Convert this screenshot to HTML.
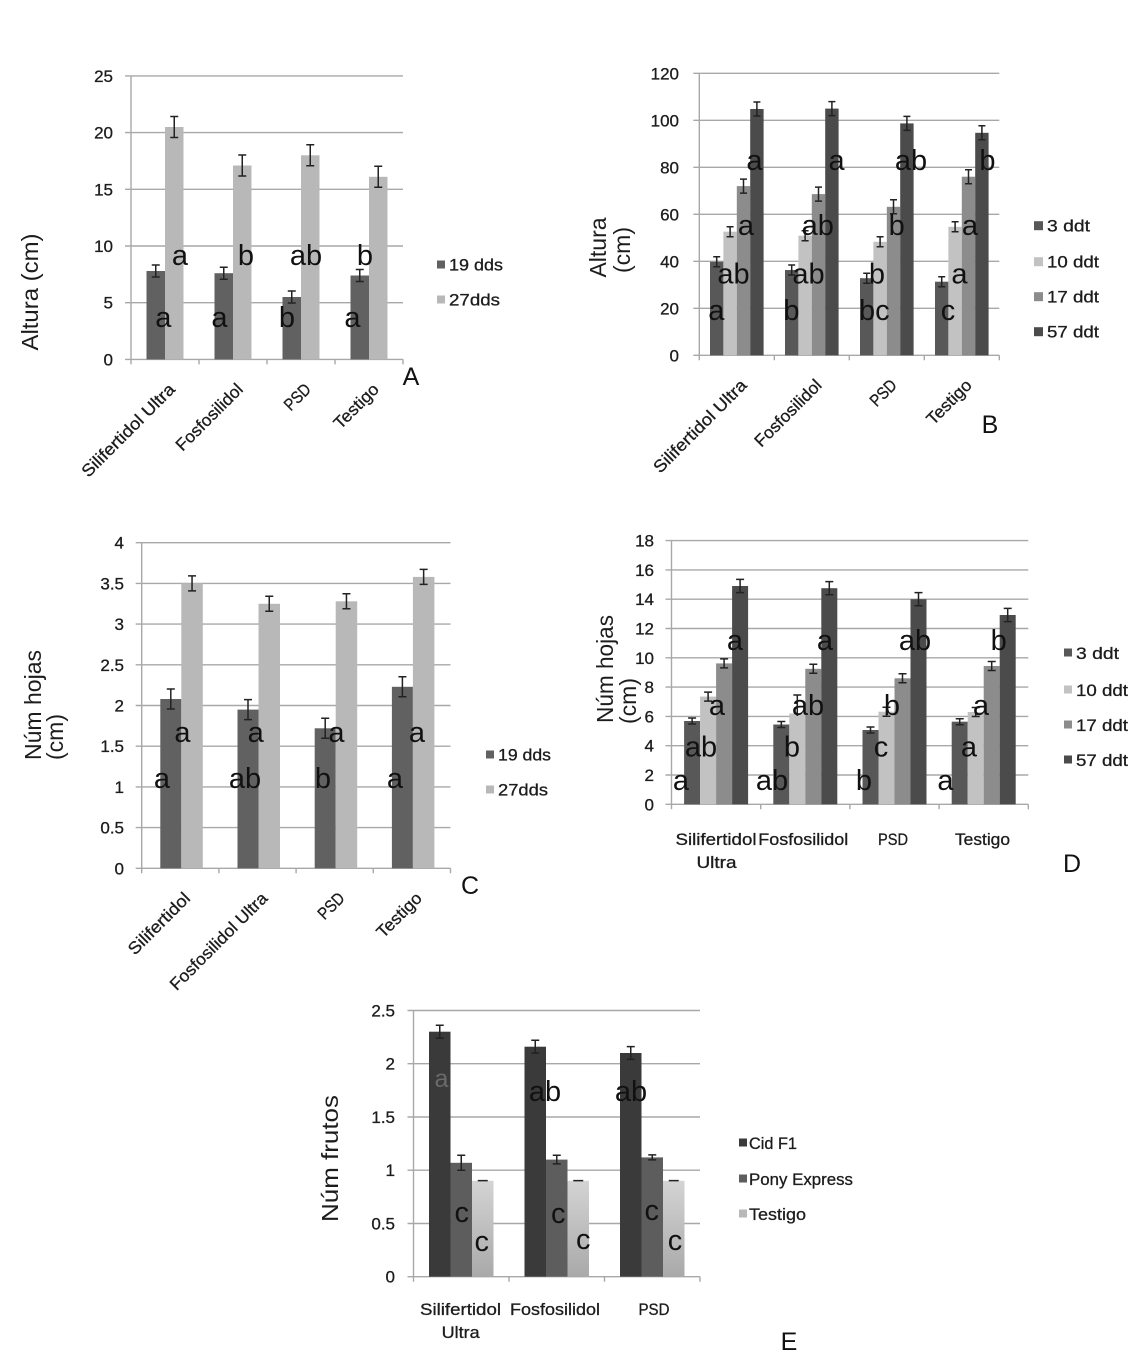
<!DOCTYPE html>
<html><head><meta charset="utf-8"><style>
html,body{margin:0;padding:0;background:#fff}
svg{display:block}
text{font-family:"Liberation Sans",Arial,sans-serif;fill:#1c1c1c}
.t{font-size:17px;text-anchor:end;stroke:#1c1c1c;stroke-width:0.3}
.l{font-size:29px;text-anchor:middle;fill:#111}
.lg{font-size:17px;stroke:#1c1c1c;stroke-width:0.3}
.x{font-size:17px;text-anchor:end;stroke:#1c1c1c;stroke-width:0.3}
.xh{font-size:17px;text-anchor:middle;stroke:#1c1c1c;stroke-width:0.3}
.ttl{font-size:23px}
.big{font-size:25px;text-anchor:middle;fill:#111}
.g{stroke:#a8a8a8;stroke-width:1.4;fill:none}
.e{stroke:#222;stroke-width:1.5;fill:none}
</style></head><body>
<svg width="1148" height="1359" viewBox="0 0 1148 1359" xmlns="http://www.w3.org/2000/svg">
<defs>
<linearGradient id="tg" x1="0" y1="0" x2="0" y2="1"><stop offset="0" stop-color="#d4d4d4"/><stop offset="1" stop-color="#a9a9a9"/></linearGradient>
</defs>
<rect width="1148" height="1359" fill="#fff"/>

<!-- ================= CHART A ================= -->
<path class="g" d="M125 75.9H403M125 132.6H403M125 189.3H403M125 246H403M125 302.7H403M125 359.4H403M131 75.9V359.4M131 359.4v5M199 359.4v5M267 359.4v5M335 359.4v5M403 359.4v5"/>
<g fill="#616161">
<rect x="146.5" y="271" width="18.5" height="88.4"/>
<rect x="214.5" y="273.2" width="18.5" height="86.2"/>
<rect x="282.5" y="297" width="18.5" height="62.4"/>
<rect x="350.5" y="275.5" width="18.5" height="83.9"/>
</g>
<g fill="#b8b8b8">
<rect x="165" y="127" width="18.5" height="232.4"/>
<rect x="233" y="165.5" width="18.5" height="193.9"/>
<rect x="301" y="155.3" width="18.5" height="204.1"/>
<rect x="369" y="176.8" width="18.5" height="182.6"/>
</g>
<path class="e" d="M155.75 265V277M151.75 265h8M151.75 277h8
M174.25 116.5V137.5M170.25 116.5h8M170.25 137.5h8
M223.75 267.2V279.2M219.75 267.2h8M219.75 279.2h8
M242.25 155V176M238.25 155h8M238.25 176h8
M291.75 291V303M287.75 291h8M287.75 303h8
M310.25 144.8V165.8M306.25 144.8h8M306.25 165.8h8
M359.75 269.5V281.5M355.75 269.5h8M355.75 281.5h8
M378.25 166.3V187.3M374.25 166.3h8M374.25 187.3h8"/>
<text class="t" x="113" y="365.4">0</text>
<text class="t" x="113" y="308.7">5</text>
<text class="t" x="113" y="252">10</text>
<text class="t" x="113" y="195.3">15</text>
<text class="t" x="113" y="138.6">20</text>
<text class="t" x="113" y="81.9">25</text>
<text class="l" x="163.3" y="327">a</text>
<text class="l" x="219.5" y="327">a</text>
<text class="l" x="287" y="327">b</text>
<text class="l" x="352.5" y="327">a</text>
<text class="l" x="180" y="265">a</text>
<text class="l" x="246" y="265">b</text>
<text class="l" x="306" y="265">ab</text>
<text class="l" x="365" y="265">b</text>
<text class="ttl" text-anchor="middle" textLength="117" lengthAdjust="spacingAndGlyphs" transform="translate(38,292) rotate(-90)">Altura (cm)</text>
<rect x="437" y="260.5" width="8" height="8" fill="#616161"/>
<rect x="437" y="295.5" width="8" height="8" fill="#b8b8b8"/>
<text class="lg" x="449" y="270.5" textLength="54" lengthAdjust="spacingAndGlyphs">19 dds</text>
<text class="lg" x="449" y="305.5" textLength="51" lengthAdjust="spacingAndGlyphs">27dds</text>
<text class="x" textLength="124" lengthAdjust="spacingAndGlyphs" transform="translate(176,390.4) rotate(-45)">Silifertidol Ultra</text>
<text class="x" textLength="87" lengthAdjust="spacingAndGlyphs" transform="translate(244,390.4) rotate(-45)">Fosfosilidol</text>
<text class="x" textLength="30" lengthAdjust="spacingAndGlyphs" transform="translate(312,390.4) rotate(-45)">PSD</text>
<text class="x" textLength="56" lengthAdjust="spacingAndGlyphs" transform="translate(380,390.4) rotate(-45)">Testigo</text>
<text class="big" x="411" y="385">A</text>

<!-- ================= CHART B ================= -->
<path class="g" d="M693.3 73.3H999.3M693.3 120.3H999.3M693.3 167.3H999.3M693.3 214.3H999.3M693.3 261.3H999.3M693.3 308.3H999.3M693.3 355.3H999.3M699.3 73.3V355.3M699.3 355.3v5M774.3 355.3v5M849.3 355.3v5M924.3 355.3v5M999.3 355.3v5"/>
<g fill="#585858">
<rect x="710" y="261.8" width="13.4" height="93.5"/>
<rect x="785" y="270" width="13.4" height="85.3"/>
<rect x="860" y="278.2" width="13.4" height="77.1"/>
<rect x="935" y="281.7" width="13.4" height="73.6"/>
</g>
<g fill="#c2c2c2">
<rect x="723.4" y="231.7" width="13.4" height="123.6"/>
<rect x="798.4" y="235.7" width="13.4" height="119.6"/>
<rect x="873.4" y="241.8" width="13.4" height="113.5"/>
<rect x="948.4" y="226.8" width="13.4" height="128.5"/>
</g>
<g fill="#8c8c8c">
<rect x="736.8" y="186.1" width="13.4" height="169.2"/>
<rect x="811.8" y="194.1" width="13.4" height="161.2"/>
<rect x="886.8" y="206.8" width="13.4" height="148.5"/>
<rect x="961.8" y="176.7" width="13.4" height="178.6"/>
</g>
<g fill="#4b4b4b">
<rect x="750.2" y="109" width="13.4" height="246.3"/>
<rect x="825.2" y="108.6" width="13.4" height="246.7"/>
<rect x="900.2" y="123.4" width="13.4" height="231.9"/>
<rect x="975.2" y="132.8" width="13.4" height="222.5"/>
</g>
<path class="e" d="M716.7 256.8V266.8M713.2 256.8h7M713.2 266.8h7
M730.1 226.7V236.7M726.6 226.7h7M726.6 236.7h7
M743.5 179.1V193.1M740 179.1h7M740 193.1h7
M756.9 102V116M753.4 102h7M753.4 116h7
M791.7 265V275M788.2 265h7M788.2 275h7
M805.1 230.7V240.7M801.6 230.7h7M801.6 240.7h7
M818.5 187.1V201.1M815 187.1h7M815 201.1h7
M831.9 101.6V115.6M828.4 101.6h7M828.4 115.6h7
M866.7 273.2V283.2M863.2 273.2h7M863.2 283.2h7
M880.1 236.8V246.8M876.6 236.8h7M876.6 246.8h7
M893.5 199.8V213.8M890 199.8h7M890 213.8h7
M906.9 116.4V130.4M903.4 116.4h7M903.4 130.4h7
M941.7 276.7V286.7M938.2 276.7h7M938.2 286.7h7
M955.1 221.8V231.8M951.6 221.8h7M951.6 231.8h7
M968.5 169.7V183.7M965 169.7h7M965 183.7h7
M981.9 125.8V139.8M978.4 125.8h7M978.4 139.8h7"/>
<text class="t" x="679" y="361.3">0</text>
<text class="t" x="679" y="314.3">20</text>
<text class="t" x="679" y="267.3">40</text>
<text class="t" x="679" y="220.3">60</text>
<text class="t" x="679" y="173.3">80</text>
<text class="t" x="679" y="126.3">100</text>
<text class="t" x="679" y="79.3">120</text>
<text class="l" x="716.3" y="320">a</text>
<text class="l" x="733.5" y="283.3">ab</text>
<text class="l" x="746" y="235">a</text>
<text class="l" x="754.5" y="170">a</text>
<text class="l" x="791.5" y="320">b</text>
<text class="l" x="808.5" y="283.3">ab</text>
<text class="l" x="817.7" y="235">ab</text>
<text class="l" x="836.6" y="170">a</text>
<text class="l" x="874.3" y="320">bc</text>
<text class="l" x="877" y="283.3">b</text>
<text class="l" x="896.7" y="235">b</text>
<text class="l" x="911" y="170">ab</text>
<text class="l" x="948" y="320">c</text>
<text class="l" x="959.5" y="283.3">a</text>
<text class="l" x="970" y="235">a</text>
<text class="l" x="987.4" y="170">b</text>
<text class="ttl" text-anchor="middle" transform="translate(606,247.5) rotate(-90)">Altura</text>
<text class="ttl" text-anchor="middle" transform="translate(630,250) rotate(-90)">(cm)</text>
<rect x="1034" y="221.2" width="9" height="9" fill="#585858"/>
<rect x="1034" y="257.2" width="9" height="9" fill="#c2c2c2"/>
<rect x="1034" y="292.2" width="9" height="9" fill="#8c8c8c"/>
<rect x="1034" y="327.2" width="9" height="9" fill="#4b4b4b"/>
<text class="lg" x="1047" y="231.7" textLength="43" lengthAdjust="spacingAndGlyphs">3 ddt</text>
<text class="lg" x="1047" y="267.7" textLength="52" lengthAdjust="spacingAndGlyphs">10 ddt</text>
<text class="lg" x="1047" y="302.7" textLength="52" lengthAdjust="spacingAndGlyphs">17 ddt</text>
<text class="lg" x="1047" y="337.7" textLength="52" lengthAdjust="spacingAndGlyphs">57 ddt</text>
<text class="x" textLength="124" lengthAdjust="spacingAndGlyphs" transform="translate(747.8,386.3) rotate(-45)">Silifertidol Ultra</text>
<text class="x" textLength="87" lengthAdjust="spacingAndGlyphs" transform="translate(822.8,386.3) rotate(-45)">Fosfosilidol</text>
<text class="x" textLength="30" lengthAdjust="spacingAndGlyphs" transform="translate(897.8,386.3) rotate(-45)">PSD</text>
<text class="x" textLength="56" lengthAdjust="spacingAndGlyphs" transform="translate(972.8,386.3) rotate(-45)">Testigo</text>
<text class="big" x="990" y="433">B</text>

<!-- ================= CHART C ================= -->
<path class="g" d="M135.7 542.7H450.5M135.7 583.4H450.5M135.7 624.1H450.5M135.7 664.8H450.5M135.7 705.5H450.5M135.7 746.2H450.5M135.7 786.9H450.5M135.7 827.6H450.5M135.7 868.3H450.5M141.7 542.7V868.3M141.7 868.3v5M218.9 868.3v5M296.1 868.3v5M373.3 868.3v5M450.5 868.3v5"/>
<g fill="#616161">
<rect x="160.3" y="699" width="21" height="169.3"/>
<rect x="237.5" y="709.6" width="21" height="158.7"/>
<rect x="314.7" y="728.3" width="21" height="140"/>
<rect x="391.9" y="686.8" width="21" height="181.5"/>
</g>
<g fill="#b8b8b8">
<rect x="181.3" y="583.4" width="21.5" height="284.9"/>
<rect x="258.5" y="603.8" width="21.5" height="264.5"/>
<rect x="335.7" y="601.3" width="21.5" height="267"/>
<rect x="412.9" y="576.9" width="21.5" height="291.4"/>
</g>
<path class="e" d="M170.8 689V709M166.8 689h8M166.8 709h8
M192.05 575.9V590.9M188.05 575.9h8M188.05 590.9h8
M248 699.6V719.6M244 699.6h8M244 719.6h8
M269.25 596.3V611.3M265.25 596.3h8M265.25 611.3h8
M325.2 718.3V738.3M321.2 718.3h8M321.2 738.3h8
M346.45 593.8V608.8M342.45 593.8h8M342.45 608.8h8
M402.4 676.8V696.8M398.4 676.8h8M398.4 696.8h8
M423.65 569.4V584.4M419.65 569.4h8M419.65 584.4h8"/>
<text class="t" x="124" y="874.3">0</text>
<text class="t" x="124" y="833.6">0.5</text>
<text class="t" x="124" y="792.9">1</text>
<text class="t" x="124" y="752.2">1.5</text>
<text class="t" x="124" y="711.5">2</text>
<text class="t" x="124" y="670.8">2.5</text>
<text class="t" x="124" y="630.1">3</text>
<text class="t" x="124" y="589.4">3.5</text>
<text class="t" x="124" y="548.7">4</text>
<text class="l" x="162" y="788">a</text>
<text class="l" x="245" y="788">ab</text>
<text class="l" x="323" y="788">b</text>
<text class="l" x="395" y="788">a</text>
<text class="l" x="182.5" y="742">a</text>
<text class="l" x="255.7" y="742">a</text>
<text class="l" x="336.5" y="742">a</text>
<text class="l" x="417" y="742">a</text>
<text class="ttl" text-anchor="start" textLength="110" lengthAdjust="spacingAndGlyphs" transform="translate(41,760) rotate(-90)">Núm hojas</text>
<text class="ttl" text-anchor="start" transform="translate(63,760) rotate(-90)">(cm)</text>
<rect x="486" y="750.5" width="8" height="8" fill="#616161"/>
<rect x="486" y="785.5" width="8" height="8" fill="#b8b8b8"/>
<text class="lg" x="498" y="760.5" textLength="53" lengthAdjust="spacingAndGlyphs">19 dds</text>
<text class="lg" x="498" y="795.5" textLength="50" lengthAdjust="spacingAndGlyphs">27dds</text>
<text class="x" textLength="80" lengthAdjust="spacingAndGlyphs" transform="translate(191.3,899.3) rotate(-45)">Silifertidol</text>
<text class="x" textLength="130" lengthAdjust="spacingAndGlyphs" transform="translate(268.5,899.3) rotate(-45)">Fosfosilidol Ultra</text>
<text class="x" textLength="30" lengthAdjust="spacingAndGlyphs" transform="translate(345.7,899.3) rotate(-45)">PSD</text>
<text class="x" textLength="56" lengthAdjust="spacingAndGlyphs" transform="translate(422.9,899.3) rotate(-45)">Testigo</text>
<text class="big" x="470" y="894">C</text>

<!-- ================= CHART D ================= -->
<path class="g" d="M665.5 540.6H1028.3M665.5 569.9H1028.3M665.5 599.2H1028.3M665.5 628.5H1028.3M665.5 657.8H1028.3M665.5 687.1H1028.3M665.5 716.4H1028.3M665.5 745.7H1028.3M665.5 775H1028.3M665.5 804.3H1028.3M671.5 540.6V804.3M671.5 804.3v5M760.7 804.3v5M849.9 804.3v5M939.1 804.3v5M1028.3 804.3v5"/>
<g fill="#585858">
<rect x="684.1" y="721" width="16" height="83.3"/>
<rect x="773.3" y="724.5" width="16" height="79.8"/>
<rect x="862.5" y="730" width="16" height="74.3"/>
<rect x="951.7" y="721.7" width="16" height="82.6"/>
</g>
<g fill="#c2c2c2">
<rect x="700.1" y="696.6" width="16" height="107.7"/>
<rect x="789.3" y="713.5" width="16" height="90.8"/>
<rect x="878.5" y="711.7" width="16" height="92.6"/>
<rect x="967.7" y="712" width="16" height="92.3"/>
</g>
<g fill="#8c8c8c">
<rect x="716.1" y="663.4" width="16" height="140.9"/>
<rect x="805.3" y="668.8" width="16" height="135.5"/>
<rect x="894.5" y="678.3" width="16" height="126"/>
<rect x="983.7" y="666" width="16" height="138.3"/>
</g>
<g fill="#4b4b4b">
<rect x="732.1" y="586" width="16" height="218.3"/>
<rect x="821.3" y="588.2" width="16" height="216.1"/>
<rect x="910.5" y="599.2" width="16" height="205.1"/>
<rect x="999.7" y="615" width="16" height="189.3"/>
</g>
<path class="e" d="M692.1 718V724M688.1 718h8M688.1 724h8
M708.1 692.1V701.1M704.1 692.1h8M704.1 701.1h8
M724.1 658.9V667.9M720.1 658.9h8M720.1 667.9h8
M740.1 579.4V592.6M736.1 579.4h8M736.1 592.6h8
M781.3 721.5V727.5M777.3 721.5h8M777.3 727.5h8
M797.3 695V716M793.3 695h8
M813.3 664.3V673.3M809.3 664.3h8M809.3 673.3h8
M829.3 581.6V594.8M825.3 581.6h8M825.3 594.8h8
M870.5 727V733M866.5 727h8M866.5 733h8
M886.5 707.2V716.2M882.5 707.2h8M882.5 716.2h8
M902.5 673.8V682.8M898.5 673.8h8M898.5 682.8h8
M918.5 592.6V605.8M914.5 592.6h8M914.5 605.8h8
M959.7 718.7V724.7M955.7 718.7h8M955.7 724.7h8
M975.7 707.5V716.5M971.7 707.5h8M971.7 716.5h8
M991.7 661.5V670.5M987.7 661.5h8M987.7 670.5h8
M1007.7 608.4V621.6M1003.7 608.4h8M1003.7 621.6h8"/>
<text class="t" x="654" y="810.3">0</text>
<text class="t" x="654" y="781">2</text>
<text class="t" x="654" y="751.7">4</text>
<text class="t" x="654" y="722.4">6</text>
<text class="t" x="654" y="693.1">8</text>
<text class="t" x="654" y="663.8">10</text>
<text class="t" x="654" y="634.5">12</text>
<text class="t" x="654" y="605.2">14</text>
<text class="t" x="654" y="575.9">16</text>
<text class="t" x="654" y="546.6">18</text>
<text class="l" x="681" y="790">a</text>
<text class="l" x="701" y="756.7">ab</text>
<text class="l" x="717" y="715">a</text>
<text class="l" x="735" y="650">a</text>
<text class="l" x="772" y="790">ab</text>
<text class="l" x="792" y="756.7">b</text>
<text class="l" x="808" y="715">ab</text>
<text class="l" x="825" y="650">a</text>
<text class="l" x="864" y="790">b</text>
<text class="l" x="881" y="756.7">c</text>
<text class="l" x="892" y="715">b</text>
<text class="l" x="915" y="650">ab</text>
<text class="l" x="945.5" y="790">a</text>
<text class="l" x="969" y="756.7">a</text>
<text class="l" x="981" y="715">a</text>
<text class="l" x="998.7" y="650">b</text>
<text class="ttl" text-anchor="start" textLength="108" lengthAdjust="spacingAndGlyphs" transform="translate(613,723) rotate(-90)">Núm hojas</text>
<text class="ttl" text-anchor="start" transform="translate(636,724) rotate(-90)">(cm)</text>
<rect x="1064" y="648.5" width="8" height="8" fill="#585858"/>
<rect x="1064" y="685.5" width="8" height="8" fill="#c2c2c2"/>
<rect x="1064" y="720.5" width="8" height="8" fill="#8c8c8c"/>
<rect x="1064" y="755.5" width="8" height="8" fill="#4b4b4b"/>
<text class="lg" x="1076" y="659" textLength="43" lengthAdjust="spacingAndGlyphs">3 ddt</text>
<text class="lg" x="1076" y="696" textLength="52" lengthAdjust="spacingAndGlyphs">10 ddt</text>
<text class="lg" x="1076" y="731" textLength="52" lengthAdjust="spacingAndGlyphs">17 ddt</text>
<text class="lg" x="1076" y="766" textLength="52" lengthAdjust="spacingAndGlyphs">57 ddt</text>
<text class="xh" x="716" y="845" textLength="81" lengthAdjust="spacingAndGlyphs">Silifertidol</text>
<text class="xh" x="716.5" y="868" textLength="40" lengthAdjust="spacingAndGlyphs">Ultra</text>
<text class="xh" x="803.3" y="845" textLength="90" lengthAdjust="spacingAndGlyphs">Fosfosilidol</text>
<text class="xh" x="893" y="845" textLength="30" lengthAdjust="spacingAndGlyphs">PSD</text>
<text class="xh" x="982.5" y="845" textLength="55" lengthAdjust="spacingAndGlyphs">Testigo</text>
<text class="big" x="1072" y="872">D</text>

<!-- ================= CHART E ================= -->
<path class="g" d="M407.5 1010.5H700M407.5 1063.7H700M407.5 1117H700M407.5 1170.2H700M407.5 1223.5H700M407.5 1276.7H700M413.5 1010.5V1276.7M413.5 1276.7v5M509 1276.7v5M604.5 1276.7v5M700 1276.7v5"/>
<g fill="#3a3a3a">
<rect x="429" y="1031.7" width="21.5" height="245"/>
<rect x="524.5" y="1046.7" width="21.5" height="230"/>
<rect x="620" y="1053" width="21.5" height="223.7"/>
</g>
<g fill="#5d5d5d">
<rect x="450.5" y="1162.8" width="21.5" height="113.9"/>
<rect x="546" y="1159.6" width="21.5" height="117.1"/>
<rect x="641.5" y="1157.4" width="21.5" height="119.3"/>
</g>
<g fill="url(#tg)">
<rect x="472" y="1180.8" width="21.5" height="95.9"/>
<rect x="567.5" y="1180.8" width="21.5" height="95.9"/>
<rect x="663" y="1180.8" width="21.5" height="95.9"/>
</g>
<path class="e" d="M439.75 1025.3V1038.1M435.75 1025.3h8M435.75 1038.1h8
M461.25 1155.3V1170.3M457.25 1155.3h8M457.25 1170.3h8
M477.75 1180.6h10
M535.25 1040.3V1053.1M531.25 1040.3h8M531.25 1053.1h8
M556.75 1155.3V1163.9M552.75 1155.3h8M552.75 1163.9h8
M573.25 1180.6h10
M630.75 1046.6V1059.4M626.75 1046.6h8M626.75 1059.4h8
M652.25 1154.9V1159.9M648.25 1154.9h8M648.25 1159.9h8
M668.75 1180.6h10"/>
<text class="t" x="395" y="1282.7">0</text>
<text class="t" x="395" y="1229.5">0.5</text>
<text class="t" x="395" y="1176.2">1</text>
<text class="t" x="395" y="1123">1.5</text>
<text class="t" x="395" y="1069.7">2</text>
<text class="t" x="395" y="1016.5">2.5</text>
<text class="l" x="441.5" y="1087" style="fill:#6a6a6a;font-size:25px">a</text>
<text class="l" x="545" y="1101">ab</text>
<text class="l" x="631" y="1101">ab</text>
<text class="l" x="461.7" y="1222">c</text>
<text class="l" x="558.3" y="1223">c</text>
<text class="l" x="651.8" y="1220">c</text>
<text class="l" x="481.7" y="1251">c</text>
<text class="l" x="583.3" y="1249">c</text>
<text class="l" x="675" y="1250">c</text>
<text class="ttl" text-anchor="middle" textLength="127" lengthAdjust="spacingAndGlyphs" transform="translate(338,1158.5) rotate(-90)">Núm frutos</text>
<rect x="739" y="1138.5" width="8" height="8" fill="#3a3a3a"/>
<rect x="739" y="1174.5" width="8" height="8" fill="#5d5d5d"/>
<rect x="739" y="1209.5" width="8" height="8" fill="#b8b8b8"/>
<text class="lg" x="749" y="1149" textLength="48" lengthAdjust="spacingAndGlyphs">Cid F1</text>
<text class="lg" x="749" y="1185" textLength="104" lengthAdjust="spacingAndGlyphs">Pony Express</text>
<text class="lg" x="749" y="1220" textLength="57" lengthAdjust="spacingAndGlyphs">Testigo</text>
<text class="xh" x="460.5" y="1315" textLength="81" lengthAdjust="spacingAndGlyphs">Silifertidol</text>
<text class="xh" x="460.7" y="1338" textLength="38" lengthAdjust="spacingAndGlyphs">Ultra</text>
<text class="xh" x="555" y="1315" textLength="90" lengthAdjust="spacingAndGlyphs">Fosfosilidol</text>
<text class="xh" x="654" y="1315" textLength="31" lengthAdjust="spacingAndGlyphs">PSD</text>
<text class="big" x="789" y="1350">E</text>
</svg>
</body></html>
